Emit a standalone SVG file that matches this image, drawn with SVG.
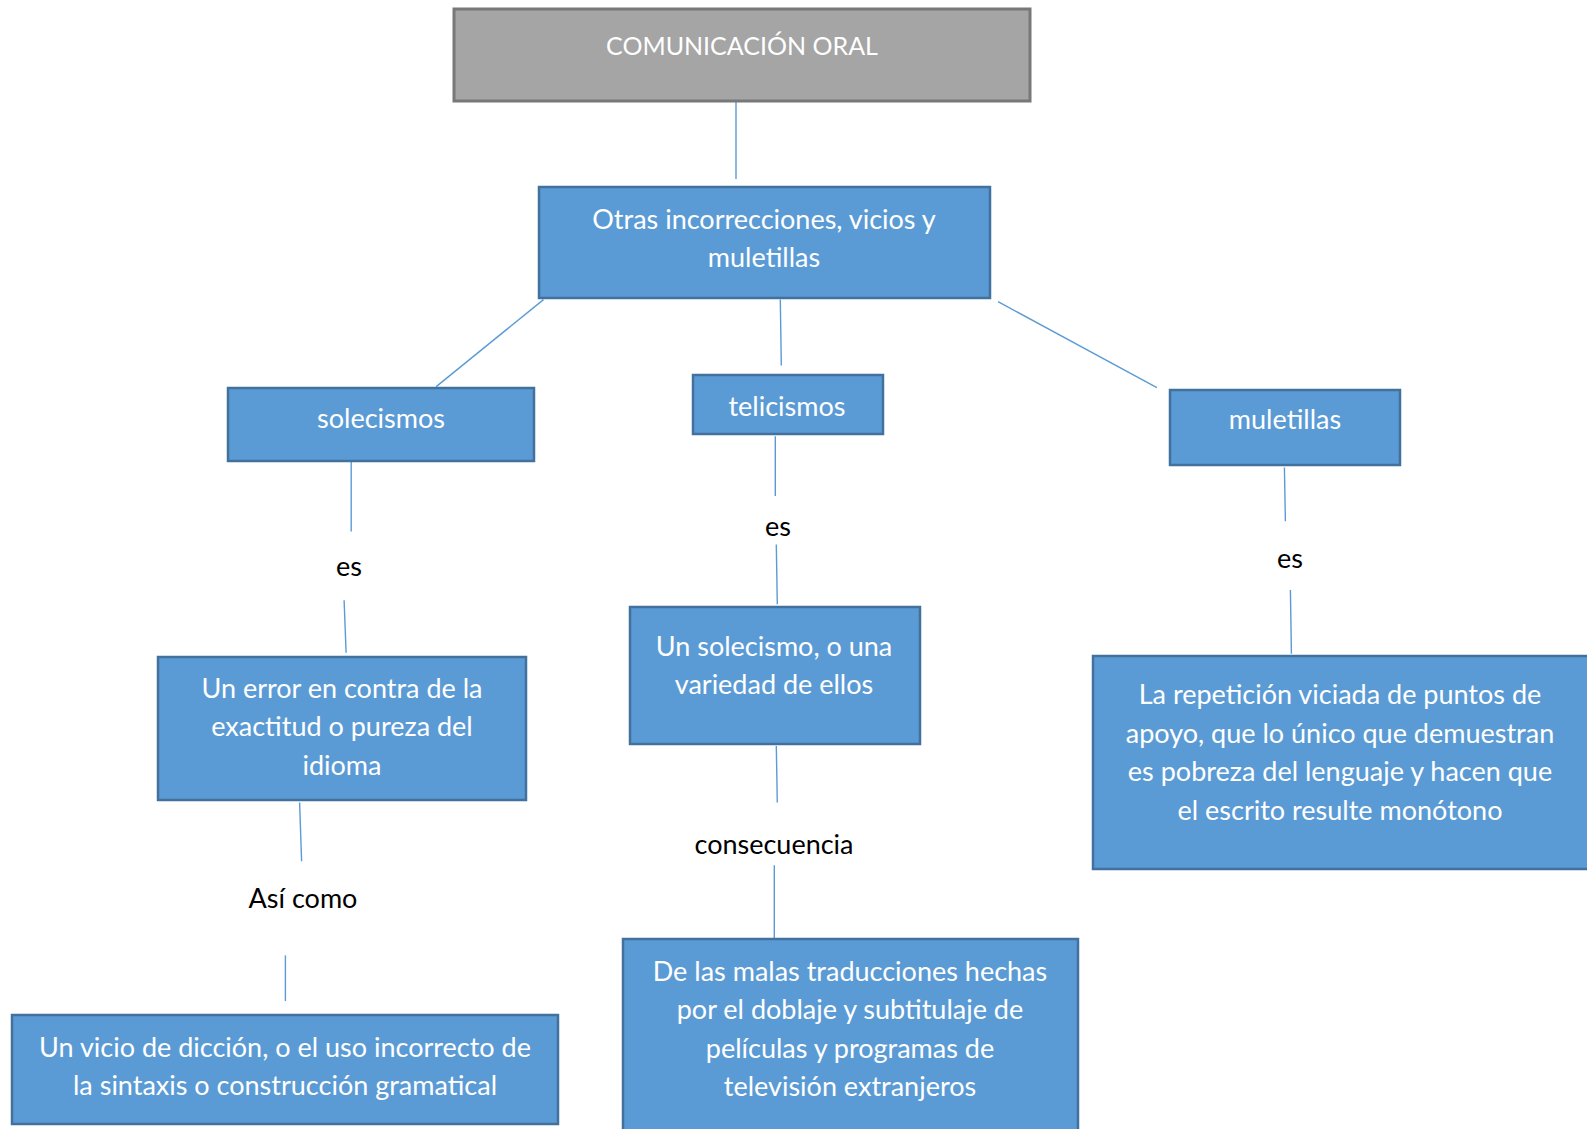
<svg xmlns="http://www.w3.org/2000/svg" width="1587" height="1129" viewBox="0 0 1587 1129">
<style>
.box{fill:#5b9bd5;stroke:#41719c;stroke-width:2.5}
.gray{fill:#a5a5a5;stroke:#787878;stroke-width:3}
.t{font-family:Lato,"Open Sans","Liberation Sans",sans-serif;font-size:27px;fill:#ffffff;text-anchor:middle}
.title{font-size:25px}
.lbl{font-family:Lato,"Open Sans","Liberation Sans",sans-serif;font-size:27px;fill:#000000;text-anchor:middle}
.c{stroke:#5b9bd5;stroke-width:1.4;fill:none}
</style>
<defs>
<clipPath id="clipEs"><rect x="740" y="500" width="80" height="37"/></clipPath>
</defs>
<rect width="1587" height="1129" fill="#ffffff"/>
<g id="connectors">
<line class="c" x1="736" y1="91" x2="736" y2="179"/>
<line class="c" x1="543.5" y1="299.6" x2="436.2" y2="386.6"/>
<line class="c" x1="780.3" y1="299.6" x2="781.3" y2="365.4"/>
<line class="c" x1="998" y1="301.6" x2="1156.9" y2="387.6"/>
<line class="c" x1="351.2" y1="461.5" x2="351.2" y2="531.4"/>
<line class="c" x1="344.1" y1="600.2" x2="346.1" y2="652.8"/>
<line class="c" x1="775.3" y1="436.2" x2="775.3" y2="495.9"/>
<line class="c" x1="776.3" y1="544.5" x2="777.3" y2="604.2"/>
<line class="c" x1="1284.4" y1="467.6" x2="1285.4" y2="521.2"/>
<line class="c" x1="1290.4" y1="590" x2="1291.4" y2="653.8"/>
<line class="c" x1="299.6" y1="802.6" x2="301.6" y2="861.3"/>
<line class="c" x1="285.4" y1="955.4" x2="285.4" y2="1001"/>
<line class="c" x1="776.3" y1="745.9" x2="777.3" y2="802.6"/>
<line class="c" x1="774.3" y1="865.3" x2="774.3" y2="938.2"/>
</g>
<g id="comunicacion-oral">
<rect class="gray" x="454" y="9" width="576" height="92"/>
<text class="t title" x="742" y="55">COMUNICACIÓN ORAL</text>
</g>
<g id="otras">
<rect class="box" x="539" y="187" width="451" height="111"/>
<text class="t" x="764" y="228.5">Otras incorrecciones, vicios y</text>
<text class="t" x="764" y="266.5">muletillas</text>
</g>
<g id="solecismos">
<rect class="box" x="228" y="388" width="306" height="73"/>
<text class="t" x="381" y="428">solecismos</text>
</g>
<g id="telicismos">
<rect class="box" x="693" y="375" width="190" height="59"/>
<text class="t" x="787" y="416">telicismos</text>
</g>
<g id="muletillas">
<rect class="box" x="1170" y="390" width="230" height="75"/>
<text class="t" x="1285" y="429">muletillas</text>
</g>
<g id="lbl-es-1"><text class="lbl" x="349" y="575.5">es</text></g>
<g id="lbl-es-2"><text class="lbl" x="778" y="535.5" clip-path="url(#clipEs)">es</text></g>
<g id="lbl-es-3"><text class="lbl" x="1290" y="567.5">es</text></g>
<g id="error">
<rect class="box" x="158" y="657" width="368" height="143"/>
<text class="t" x="342" y="697.5">Un error en contra de la</text>
<text class="t" x="342" y="735.5">exactitud o pureza del</text>
<text class="t" x="342" y="774.5">idioma</text>
</g>
<g id="un-solecismo">
<rect class="box" x="630" y="607" width="290" height="137"/>
<text class="t" x="774" y="655.5">Un solecismo, o una</text>
<text class="t" x="774" y="693.5">variedad de ellos</text>
</g>
<g id="repeticion">
<rect class="box" x="1093" y="656" width="500" height="213"/>
<text class="t" x="1340" y="703.5">La repetición viciada de puntos de</text>
<text class="t" x="1340" y="742.5">apoyo, que lo único que demuestran</text>
<text class="t" x="1340" y="780.5">es pobreza del lenguaje y hacen que</text>
<text class="t" x="1340" y="819.5">el escrito resulte monótono</text>
</g>
<g id="lbl-asi-como"><text class="lbl" x="303" y="907.5">Así como</text></g>
<g id="lbl-consecuencia"><text class="lbl" x="774" y="853.5">consecuencia</text></g>
<g id="vicio">
<rect class="box" x="12" y="1015" width="546" height="109"/>
<text class="t" x="285" y="1056.5">Un vicio de dicción, o el uso incorrecto de</text>
<text class="t" x="285" y="1094.5">la sintaxis o construcción gramatical</text>
</g>
<g id="malas-traducciones">
<rect class="box" x="623" y="939" width="455" height="200"/>
<text class="t" x="850" y="980.5">De las malas traducciones hechas</text>
<text class="t" x="850" y="1018.5">por el doblaje y subtitulaje de</text>
<text class="t" x="850" y="1057.5">películas y programas de</text>
<text class="t" x="850" y="1095.5">televisión extranjeros</text>
</g>
</svg>
